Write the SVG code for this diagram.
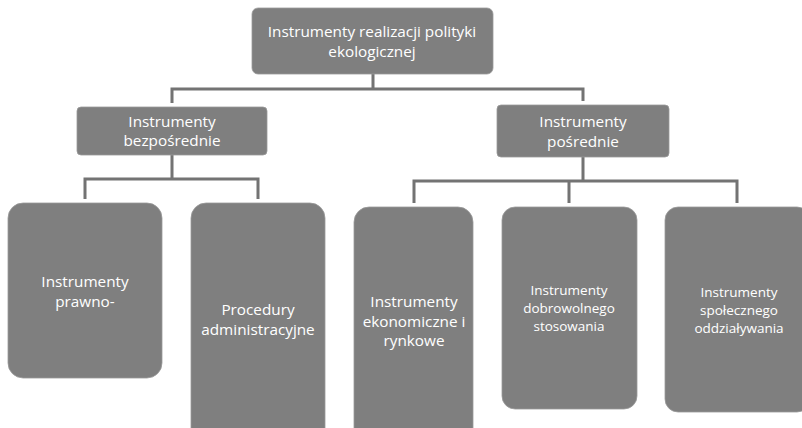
<svg xmlns="http://www.w3.org/2000/svg" width="802" height="428" viewBox="0 0 802 428">
<style>
.box{fill:#7f7f7f;stroke:#9a9a9a;stroke-width:0.8}
.t{fill:#ffffff;font-family:"Open Sans","Liberation Sans",sans-serif;font-size:15.3px;text-anchor:middle}
.s{font-size:13.5px}
.c{fill:none;stroke:#737373;stroke-width:3}
</style>
<rect width="802" height="428" fill="#ffffff"/>
<g id="connectors">
<path class="c" d="M373 74V89M172 103V89H583V101"/>
<path class="c" d="M172 155V179M85 199V179H258V199"/>
<path class="c" d="M583 157V181M414 203V181H737V203M569 181V203"/>
</g>
<g id="root">
<rect class="box" x="252" y="8" width="241" height="66" rx="6"/>
<text class="t" x="372" y="37">Instrumenty realizacji polityki</text>
<text class="t" x="372" y="57">ekologicznej</text>
</g>
<g id="bezposrednie">
<rect class="box" x="77" y="107" width="190" height="48" rx="4"/>
<text class="t" x="172" y="127">Instrumenty</text>
<text class="t" x="172" y="146">bezpośrednie</text>
</g>
<g id="posrednie">
<rect class="box" x="497" y="105" width="172" height="52" rx="4"/>
<text class="t" x="583" y="127">Instrumenty</text>
<text class="t" x="583" y="147">pośrednie</text>
</g>
<g id="prawno">
<rect class="box" x="8" y="203" width="154" height="175" rx="15"/>
<text class="t" x="85" y="287">Instrumenty</text>
<text class="t" x="85" y="307">prawno-</text>
</g>
<g id="procedury">
<rect class="box" x="191" y="203" width="134" height="240" rx="15"/>
<text class="t" x="258" y="315">Procedury</text>
<text class="t" x="258" y="335">administracyjne</text>
</g>
<g id="ekonomiczne">
<rect class="box" x="354" y="207" width="119" height="240" rx="15"/>
<text class="t" x="414" y="307">Instrumenty</text>
<text class="t" x="414" y="327">ekonomiczne i</text>
<text class="t" x="414" y="346">rynkowe</text>
</g>
<g id="dobrowolne">
<rect class="box" x="502" y="207" width="135" height="202" rx="13"/>
<text class="t s" x="569" y="295">Instrumenty</text>
<text class="t s" x="569" y="313">dobrowolnego</text>
<text class="t s" x="569" y="331">stosowania</text>
</g>
<g id="spoleczne">
<rect class="box" x="665" y="207" width="145" height="205" rx="13"/>
<text class="t s" x="739" y="297">Instrumenty</text>
<text class="t s" x="739" y="315">społecznego</text>
<text class="t s" x="739" y="333">oddziaływania</text>
</g>
</svg>
